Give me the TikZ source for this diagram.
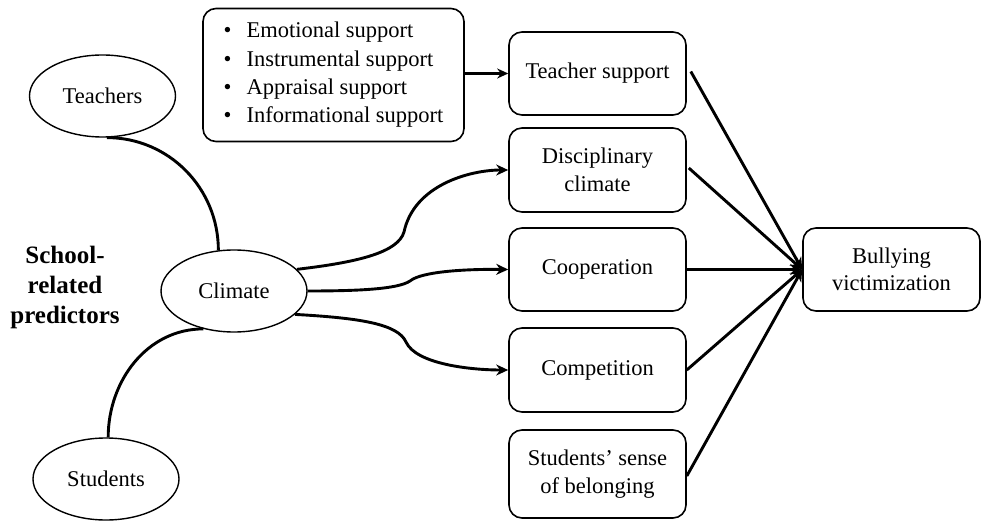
\documentclass[tikz,border=0pt]{standalone}
\usepackage{fontspec}
\setmainfont{Liberation Serif}
\usetikzlibrary{arrows.meta,shapes.geometric}
\begin{document}
\begin{tikzpicture}[x=1pt,y=-1pt,
  box/.style={draw, rounded corners=13pt, line width=1.6pt, minimum width=177pt, align=center,
    font=\fontsize{22.5}{27.5}\selectfont, inner sep=0pt},
  ell/.style={draw, ellipse, line width=1.4pt, minimum width=146pt, minimum height=82pt, inner sep=0pt,
    font=\fontsize{22.5}{27}\selectfont},
  conn/.style={line width=2.9pt},
  arr/.style={conn, -{Stealth[length=12pt,width=11pt]}}]
\useasboundingbox[fill=white] (0,0) rectangle (982,521);

\node[ell] (teachers) at (102.5,96) {Teachers};
\node[ell] (climate) at (234,291) {Climate};
\node[ell] (students) at (106,479) {Students};

\node[font=\bfseries\fontsize{25}{30}\selectfont, align=center] (label) at (65,287) {School-\\related\\predictors};

\node[box, minimum width=261pt, minimum height=133pt, align=left, font=\fontsize{22.5}{28.3}\selectfont] (bullets) at (333.5,75)
  {\makebox[23pt][l]{\textbullet}Emotional support\\
   \makebox[23pt][l]{\textbullet}Instrumental support\\
   \makebox[23pt][l]{\textbullet}Appraisal support\\
   \makebox[23pt][l]{\textbullet}Informational support};

\node[box, minimum height=83pt] (tsupport) at (597.5,73.5) {Teacher support};
\node[box, minimum height=84pt] (disc) at (597.5,170) {Disciplinary\\climate};
\node[box, minimum height=83pt] (coop) at (597.5,269.5) {Cooperation};
\node[box, minimum height=84pt] (comp) at (597.5,370) {Competition};
\node[box, minimum height=88pt] (belong) at (597.5,474) {Students' sense\\of belonging};
\node[box, minimum height=83pt] (bully) at (891.5,269.5) {Bullying\\victimization};

% predictors to climate
\draw[conn] (teachers.-84) to[out=0,in=90] (climate.111);
\draw[conn] (students.87) to[out=90,in=180] (climate.231);

% climate to components
\draw[arr] (climate.19) .. controls (360,262) and (398,252) .. (404,232)
  .. controls (414,185) and (470,170) .. (disc.west);
\draw[arr] (climate.east) .. controls (360,291) and (398,289) .. (410,281)
  .. controls (422,271) and (470,269) .. (coop.west);
\draw[arr] (climate.-21) .. controls (360,318) and (398,324) .. (406,342)
  .. controls (416,364) and (470,370) .. (comp.west);

% bullets to teacher support
\draw[line width=2.4pt, -{Stealth[length=11pt,width=10pt]}] (bullets.east |- tsupport.west) -- (tsupport.west);

% to bullying victimization
\draw[arr] ([xshift=4pt,yshift=2pt]tsupport.east) -- (bully.west);
\draw[arr] ([xshift=2pt,yshift=2pt]disc.east) -- (bully.west);
\draw[arr] (coop.east) -- (bully.west);
\draw[arr] (comp.east) -- (bully.west);
\draw[arr] ([yshift=-2pt]belong.east) -- (bully.west);
\end{tikzpicture}
\end{document}
